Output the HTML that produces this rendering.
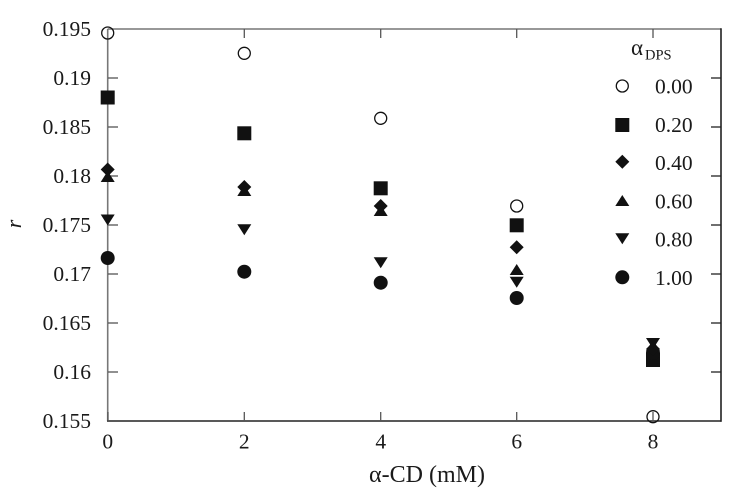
<!DOCTYPE html>
<html><head><meta charset="utf-8">
<style>
html,body{margin:0;padding:0;background:#fff;}
svg{display:block;}
text{font-family:"Liberation Serif","Times New Roman",serif;fill:#1a1a1a;}
</style></head>
<body>
<svg width="736" height="495" viewBox="0 0 736 495" xmlns="http://www.w3.org/2000/svg">
<defs>
  <g id="oc"><circle cx="0" cy="0" r="6" fill="none" stroke="#111" stroke-width="1.3"/></g>
  <g id="sq"><rect x="-7" y="-7" width="14" height="14" fill="#111"/></g>
  <g id="dm"><polygon points="0,-7 7,0 0,7 -7,0" fill="#111"/></g>
  <g id="tu"><polygon points="-7,5 7,5 0,-6" fill="#111"/></g>
  <g id="td"><polygon points="-7,-5 7,-5 0,6" fill="#111"/></g>
  <g id="fc"><circle cx="0" cy="0" r="7" fill="#111"/></g>
</defs>

<!-- axes -->
<line x1="107.7" y1="29" x2="721" y2="29" stroke="#777" stroke-width="1.6"/>
<line x1="107.7" y1="29" x2="107.7" y2="421" stroke="#777" stroke-width="1.6"/>
<line x1="107" y1="421" x2="721.5" y2="421" stroke="#222" stroke-width="1.6"/>
<line x1="721" y1="28.2" x2="721" y2="421.8" stroke="#222" stroke-width="1.6"/>

<!-- y ticks left & right -->
<g stroke="#555" stroke-width="1.3">
  <line x1="108" y1="78" x2="118" y2="78"/>
  <line x1="108" y1="127" x2="118" y2="127"/>
  <line x1="108" y1="176" x2="118" y2="176"/>
  <line x1="108" y1="225" x2="118" y2="225"/>
  <line x1="108" y1="274" x2="118" y2="274"/>
  <line x1="108" y1="323" x2="118" y2="323"/>
  <line x1="108" y1="372" x2="118" y2="372"/>
  <line x1="108" y1="412" x2="108" y2="421"/>
</g>
<g stroke="#222" stroke-width="1.3">
  <line x1="711" y1="78" x2="721" y2="78"/>
  <line x1="711" y1="127" x2="721" y2="127"/>
  <line x1="711" y1="176" x2="721" y2="176"/>
  <line x1="711" y1="225" x2="721" y2="225"/>
  <line x1="711" y1="274" x2="721" y2="274"/>
  <line x1="711" y1="323" x2="721" y2="323"/>
  <line x1="711" y1="372" x2="721" y2="372"/>
</g>
<!-- x ticks top & bottom -->
<g stroke="#555" stroke-width="1.3">
  <line x1="244.3" y1="29" x2="244.3" y2="38"/>
  <line x1="380.7" y1="29" x2="380.7" y2="38"/>
  <line x1="516.7" y1="29" x2="516.7" y2="38"/>
  <line x1="653" y1="29" x2="653" y2="38"/>
  <line x1="244.3" y1="412" x2="244.3" y2="421"/>
  <line x1="380.7" y1="412" x2="380.7" y2="421"/>
  <line x1="516.7" y1="412" x2="516.7" y2="421"/>
  <line x1="653" y1="412" x2="653" y2="421"/>
</g>

<!-- y tick labels -->
<g font-size="21.5" text-anchor="end">
  <text x="91" y="36">0.195</text>
  <text x="91" y="85">0.19</text>
  <text x="91" y="134">0.185</text>
  <text x="91" y="183">0.18</text>
  <text x="91" y="232">0.175</text>
  <text x="91" y="281">0.17</text>
  <text x="91" y="330">0.165</text>
  <text x="91" y="379">0.16</text>
  <text x="91" y="428">0.155</text>
</g>
<!-- x tick labels -->
<g font-size="21.5" text-anchor="middle">
  <text x="107.7" y="448.5">0</text>
  <text x="244.3" y="448.5">2</text>
  <text x="380.7" y="448.5">4</text>
  <text x="516.7" y="448.5">6</text>
  <text x="653" y="448.5">8</text>
</g>

<!-- axis titles -->
<text x="427" y="482" font-size="24" text-anchor="middle">α-CD (mM)</text>
<text x="0" y="0" font-size="22" font-style="italic" text-anchor="middle" transform="translate(21,224) rotate(-90)">r</text>

<!-- data -->
<use href="#oc" x="107.7" y="33"/>
<use href="#sq" x="107.7" y="97.5"/>
<use href="#dm" x="107.7" y="169.5"/>
<use href="#tu" x="107.7" y="177"/>
<use href="#td" x="107.7" y="219.5"/>
<use href="#fc" x="107.7" y="258"/>

<use href="#oc" x="244.3" y="53.3"/>
<use href="#sq" x="244.3" y="133.3"/>
<use href="#dm" x="244.3" y="187"/>
<use href="#tu" x="244.3" y="191"/>
<use href="#td" x="244.3" y="229.3"/>
<use href="#fc" x="244.3" y="271.7"/>

<use href="#oc" x="380.7" y="118.3"/>
<use href="#sq" x="380.7" y="188.3"/>
<use href="#dm" x="380.7" y="206"/>
<use href="#tu" x="380.7" y="211"/>
<use href="#td" x="380.7" y="262.3"/>
<use href="#fc" x="380.7" y="282.7"/>

<use href="#oc" x="516.7" y="206"/>
<use href="#sq" x="516.7" y="225.3"/>
<use href="#dm" x="516.7" y="247.3"/>
<use href="#tu" x="516.7" y="270"/>
<use href="#td" x="516.7" y="281.7"/>
<use href="#fc" x="516.7" y="298"/>

<use href="#oc" x="653" y="416.7"/>
<use href="#sq" x="653" y="360"/>
<use href="#fc" x="653" y="353"/>
<use href="#dm" x="653" y="349"/>
<use href="#tu" x="653" y="346"/>
<use href="#td" x="653" y="343"/>

<!-- legend -->
<text x="631" y="55" font-size="23">α</text>
<text x="645" y="59.5" font-size="14.5">DPS</text>
<use href="#oc" x="622.3" y="86"/>
<use href="#sq" x="622.3" y="125"/>
<use href="#dm" x="622.3" y="161.7"/>
<use href="#tu" x="622.3" y="201"/>
<use href="#td" x="622.3" y="238.3"/>
<use href="#fc" x="622.3" y="277.3"/>
<g font-size="21.5">
  <text x="655" y="93.5">0.00</text>
  <text x="655" y="132">0.20</text>
  <text x="655" y="170">0.40</text>
  <text x="655" y="208.5">0.60</text>
  <text x="655" y="246.5">0.80</text>
  <text x="655" y="285">1.00</text>
</g>
</svg>
</body></html>
